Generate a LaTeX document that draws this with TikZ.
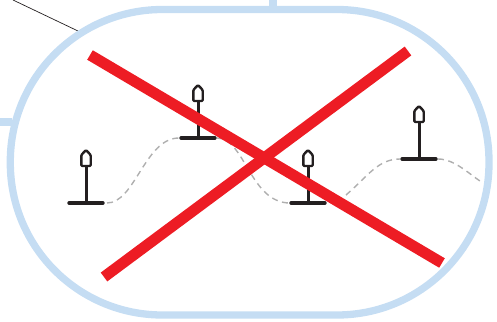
\documentclass[tikz,border=0pt]{standalone}
\definecolor{ringblue}{HTML}{C5DDF3}
\definecolor{crossred}{HTML}{ED1C24}
\definecolor{inkdark}{HTML}{231F20}
\definecolor{trailgrey}{HTML}{AFAFAF}
\tikzset{
  x=1pt,y=-1pt,
  ring/.style={draw=ringblue,line width=7.3pt},
  cross/.style={draw=crossred,line width=11pt},
  trail/.style={draw=trailgrey,line width=1.4pt,dash pattern=on 6pt off 4.5pt},
  marker/.pic={
    \draw[inkdark,line width=3.4pt,line cap=round] (-17,0)--(17,0);
    \draw[inkdark,line width=3pt] (0,0)--(0,-36);
    \draw[inkdark,line width=2.4pt,fill=white,rounded corners=1pt,line join=round]
      (-4.7,-37)--(4.7,-37)--(4.7,-48)--(0,-53)--(-4.7,-48)--cycle;
  }
}
\begin{document}
\begin{tikzpicture}
\useasboundingbox (0,0) rectangle (497,321);
\draw[ring] (273,0)--(273,10);
\draw[ring] (0,122)--(12,122);
\draw[inkdark,line width=0.7pt] (13,0)--(78,31);
\draw[ring,rounded corners=152pt] (10.3,9.5) rectangle (489,315);
\draw[trail] (107,203) .. controls (135,203) and (145,138) .. (179,138);
\draw[trail] (217,138) .. controls (245,138) and (250,203) .. (290,203);
\draw[trail] (346,195) .. controls (368,176) and (378,159) .. (400,159);
\draw[trail] (438,159) .. controls (455,159) and (470,175) .. (483,183);
\pic at (86,203) {marker};
\pic at (198,138) {marker};
\pic at (308,203) {marker};
\pic at (419,159) {marker};
\draw[cross] (90,55)--(442,263);
\draw[cross] (408,51)--(104,277);
\end{tikzpicture}
\end{document}
